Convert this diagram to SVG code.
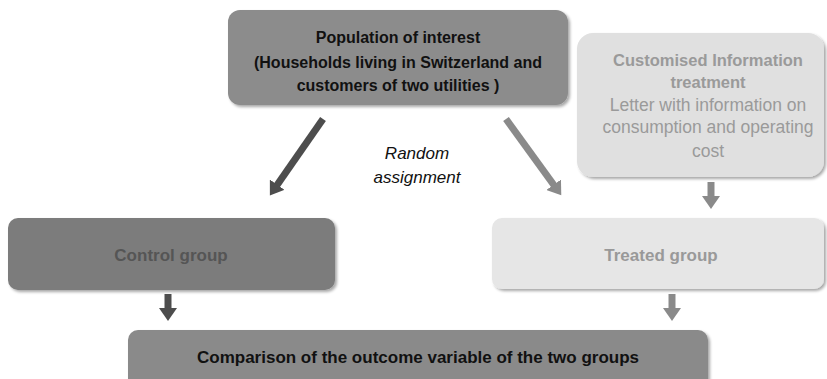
<svg xmlns="http://www.w3.org/2000/svg" width="827" height="379" viewBox="0 0 827 379">
<defs>
<filter id="sh" x="-5%" y="-10%" width="115%" height="130%">
<feGaussianBlur in="SourceAlpha" stdDeviation="1.5"/>
<feOffset dx="2" dy="2" result="b"/>
<feComponentTransfer><feFuncA type="linear" slope="0.35"/></feComponentTransfer>
<feMerge><feMergeNode/><feMergeNode in="SourceGraphic"/></feMerge>
</filter>
<marker id="hDark" markerUnits="userSpaceOnUse" markerWidth="18" markerHeight="18" refX="4" refY="9" orient="auto" viewBox="0 0 18 18">
<path d="M0,0 L13,9 L0,18 Z" fill="#4d4d4d"/>
</marker>
<marker id="hMid" markerUnits="userSpaceOnUse" markerWidth="18" markerHeight="18" refX="4" refY="9" orient="auto" viewBox="0 0 18 18">
<path d="M0,0 L13,9 L0,18 Z" fill="#8a8a8a"/>
</marker>
</defs>
<style>
text{font-family:"Liberation Sans","Open Sans",sans-serif;text-anchor:middle}
.b{font-weight:bold}
.dk{fill:#111}
.lt{fill:#9a9a9a}
.a{stroke-width:7;fill:none}
</style>
<rect width="827" height="379" fill="#ffffff"/>
<g id="connectors">
<line class="a" x1="323" y1="119" x2="275" y2="188" stroke="#4d4d4d" marker-end="url(#hDark)"/>
<line class="a" x1="506" y1="119" x2="556" y2="188" stroke="#8a8a8a" marker-end="url(#hMid)"/>
<line class="a" x1="711" y1="182" x2="711" y2="200" stroke="#8a8a8a" marker-end="url(#hMid)"/>
<line class="a" x1="168" y1="294" x2="168" y2="312" stroke="#4d4d4d" marker-end="url(#hDark)"/>
<line class="a" x1="672" y1="294" x2="672" y2="312" stroke="#8a8a8a" marker-end="url(#hMid)"/>
</g>
<g id="population">
<rect x="228" y="10" width="340" height="95" rx="12" fill="#8c8c8c" filter="url(#sh)"/>
<text class="b dk" font-size="16" x="398" y="43">Population of interest</text>
<text class="b dk" font-size="16" x="398" y="68">(Households living in Switzerland and</text>
<text class="b dk" font-size="16" x="398" y="91">customers of two utilities )</text>
</g>
<g id="treatment">
<rect x="577" y="33" width="247" height="144" rx="16" fill="#e0e0e0" filter="url(#sh)"/>
<text class="b lt" font-size="16.5" x="708" y="66">Customised Information</text>
<text class="b lt" font-size="16.5" x="708" y="88">treatment</text>
<text class="lt" font-size="17.5" x="708" y="111">Letter with information on</text>
<text class="lt" font-size="17.5" x="708" y="133">consumption and operating</text>
<text class="lt" font-size="17.5" x="708" y="157">cost</text>
</g>
<g id="random">
<text x="417" y="159" font-size="17" font-style="italic" fill="#111">Random</text>
<text x="417" y="183" font-size="17" font-style="italic" fill="#111">assignment</text>
</g>
<g id="control">
<rect x="8" y="218" width="327" height="72" rx="10" fill="#7c7c7c" filter="url(#sh)"/>
<text class="b" font-size="17" x="171" y="261" fill="#555555">Control group</text>
</g>
<g id="treated">
<rect x="492" y="218" width="332" height="71" rx="10" fill="#e6e6e6" filter="url(#sh)"/>
<text class="b" font-size="17" x="661" y="261" fill="#999999">Treated group</text>
</g>
<g id="comparison">
<rect x="128" y="330" width="580" height="60" rx="10" fill="#8a8a8a" filter="url(#sh)"/>
<text class="b dk" font-size="17" x="418" y="363">Comparison of the outcome variable of the two groups</text>
</g>
</svg>
